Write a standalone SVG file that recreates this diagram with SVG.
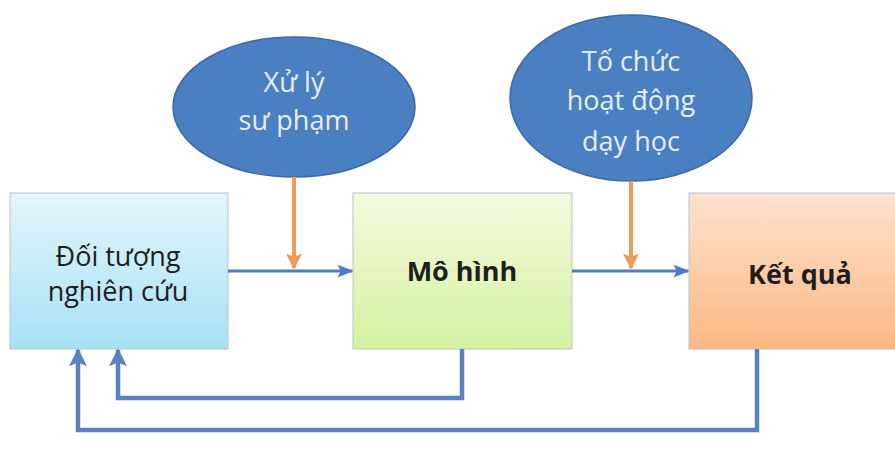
<svg xmlns="http://www.w3.org/2000/svg" width="895" height="455" viewBox="0 0 895 455">
<defs>
<linearGradient id="gBlue" x1="0" y1="0" x2="0" y2="1"><stop offset="0" stop-color="#e4f6fc"/><stop offset="1" stop-color="#a6e1f6"/></linearGradient>
<linearGradient id="gGreen" x1="0" y1="0" x2="0" y2="1"><stop offset="0" stop-color="#f2fbdf"/><stop offset="1" stop-color="#d5f1a0"/></linearGradient>
<linearGradient id="gOrange" x1="0" y1="0" x2="0" y2="1"><stop offset="0" stop-color="#fde3cf"/><stop offset="1" stop-color="#fbb781"/></linearGradient>
<marker id="aBlueS" viewBox="0 0 10 10" refX="9" refY="5" markerWidth="16" markerHeight="16" orient="auto" markerUnits="userSpaceOnUse"><path d="M0,1 L10,5 L0,9 L2,5 z" fill="#4f7dbd"/></marker>
<marker id="aBlueL" viewBox="0 0 10 10" refX="9" refY="5" markerWidth="18" markerHeight="18" orient="auto" markerUnits="userSpaceOnUse"><path d="M0,0 L10,5 L0,10 L2,5 z" fill="#5a82c0"/></marker>
<marker id="aOrange" viewBox="0 0 10 10" refX="9" refY="5" markerWidth="16" markerHeight="16" orient="auto" markerUnits="userSpaceOnUse"><path d="M0,0 L10,5 L0,10 L2,5 z" fill="#f19a55"/></marker>
<style>
.box{stroke:#b9c4c9;stroke-width:1}
.ell{fill:#4a7fc1;stroke:#3d6aa6;stroke-width:1.5}
.bt{font-family:"Open Sans","Liberation Sans",sans-serif;font-size:27px;fill:#1e1e1e;text-anchor:middle}
.et{font-family:"Open Sans","Liberation Sans",sans-serif;font-size:27px;fill:#e6eef8;text-anchor:middle}
.blue{fill:none;stroke:#4f7dbd;stroke-width:3}
.fb{fill:none;stroke:#5a82c0;stroke-width:4.5}
.or{fill:none;stroke:#f19a55;stroke-width:4}
</style>
</defs>
<rect width="895" height="455" fill="#ffffff"/>
<g id="n1">
<rect class="box" x="10" y="193" width="218" height="156" fill="url(#gBlue)"/>
<text class="bt" x="118" y="266">Đối tượng</text>
<text class="bt" x="118" y="301">nghiên cứu</text>
</g>
<g id="n2">
<rect class="box" x="353" y="193" width="219" height="156" fill="url(#gGreen)"/>
<text class="bt" x="462" y="281" font-weight="bold">Mô hình</text>
</g>
<g id="n3">
<rect class="box" x="689" y="193" width="210" height="156" fill="url(#gOrange)"/>
<text class="bt" x="800" y="284" font-weight="bold">Kết quả</text>
</g>
<g id="e1">
<ellipse class="ell" cx="294" cy="107" rx="121" ry="70"/>
<text class="et" x="294" y="92">Xử lý</text>
<text class="et" x="294" y="130">sư phạm</text>
</g>
<g id="e2">
<ellipse class="ell" cx="631" cy="98" rx="121" ry="83"/>
<text class="et" x="631" y="71">Tố chức</text>
<text class="et" x="631" y="110">hoạt động</text>
<text class="et" x="631" y="151">dạy học</text>
</g>
<g id="connectors">
<path class="blue" d="M228,271 L352,271" marker-end="url(#aBlueS)"/>
<path class="blue" d="M572,271 L688,271" marker-end="url(#aBlueS)"/>
<path class="or" d="M294,177 L294,268" marker-end="url(#aOrange)"/>
<path class="or" d="M631,181 L631,268" marker-end="url(#aOrange)"/>
<path class="fb" d="M462,349 L462,398 L118,398 L118,350" marker-end="url(#aBlueL)"/>
<path class="fb" d="M757,349 L757,430 L78,430 L78,350" marker-end="url(#aBlueL)"/>
</g>
</svg>
